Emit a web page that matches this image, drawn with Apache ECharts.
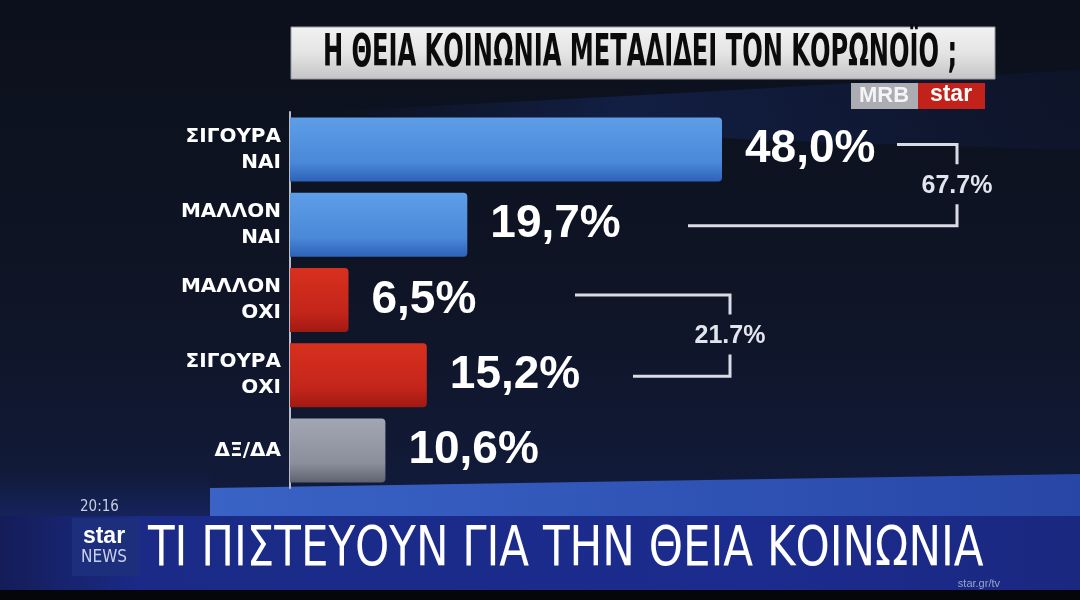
<!DOCTYPE html>
<html>
<head>
<meta charset="utf-8">
<script src="https://cdn.jsdelivr.net/npm/echarts@6/dist/echarts.min.js"></script>
<style>
html,body{margin:0;padding:0;background:#0e1322;}
#c{width:1080px;height:600px;}
</style>
</head>
<body>
<div id="c"></div>
<script>
// ---- data ----
const titleText = 'Η ΘΕΙΑ ΚΟΙΝΩΝΙΑ ΜΕΤΑΔΙΔΕΙ ΤΟΝ ΚΟΡΩΝΟΪΟ ;';
const subtitleText = 'ΤΙ ΠΙΣΤΕΥΟΥΝ ΓΙΑ ΤΗΝ ΘΕΙΑ ΚΟΙΝΩΝΙΑ';
const categories = ['ΣΙΓΟΥΡΑ\nΝΑΙ', 'ΜΑΛΛΟΝ\nΝΑΙ', 'ΜΑΛΛΟΝ\nΟΧΙ', 'ΣΙΓΟΥΡΑ\nΟΧΙ', 'ΔΞ/ΔΑ'];
const values = [48.0, 19.7, 6.5, 15.2, 10.6];
const barKinds = ['yes', 'yes', 'no', 'no', 'dk'];
const groupRows = [[0, 1], [2, 3]];
const groupTotals = [67.7, 21.7];

// ---- styles ----
const grads = {
  yes: ['#5e9ee8', '#4a88d8', '#2d62b8'],
  no: ['#d8301f', '#c4251a', '#a01a12'],
  dk: ['#a3a7b3', '#8b8f9c', '#5f6370']
};
function grad(k) {
  const g = grads[k];
  return new echarts.graphic.LinearGradient(0, 0, 0, 1, [
    {offset: 0, color: g[0]}, {offset: 0.7, color: g[1]}, {offset: 1, color: g[2]}
  ]);
}
const narrow = "'DejaVu Sans Condensed','DejaVu Sans',sans-serif";
const sans = "'Liberation Sans','DejaVu Sans',sans-serif";
const wide = "'DejaVu Sans',sans-serif";

const chart = echarts.init(document.getElementById('c'), null, {renderer: 'canvas'});

const bgGraphics = [
  {type: 'rect', z: -10, silent: true, shape: {x: 0, y: 0, width: 1080, height: 600},
   style: {fill: new echarts.graphic.LinearGradient(0, 0, 0, 1, [
     {offset: 0, color: '#0c101c'}, {offset: 0.5, color: '#0f1526'}, {offset: 0.8, color: '#111a38'}, {offset: 1, color: '#0f1840'}])}},
  // top blue swoosh
  {type: 'polygon', z: -9, silent: true, shape: {points: [[320, 112], [700, 92], [1080, 70], [1080, 150], [760, 140], [500, 125]]},
   style: {fill: new echarts.graphic.LinearGradient(0, 0, 1, 0, [
     {offset: 0, color: 'rgba(30,60,140,0)'}, {offset: 0.4, color: 'rgba(30,60,150,0.3)'}, {offset: 1, color: 'rgba(20,40,110,0.12)'}])}},
  // bottom light stripe
  {type: 'polygon', z: -8, silent: true, shape: {points: [[210, 488], [1080, 474], [1080, 520], [210, 520]]},
   style: {fill: new echarts.graphic.LinearGradient(0, 0, 1, 0, [
     {offset: 0, color: '#3a63c6'}, {offset: 0.6, color: '#2e52b4'}, {offset: 1, color: '#2846a6'}])}},
  // left-bottom glow area
  {type: 'rect', z: -8, silent: true, shape: {x: 0, y: 470, width: 210, height: 50},
   style: {fill: new echarts.graphic.LinearGradient(0, 0, 0, 1, [
     {offset: 0, color: 'rgba(20,35,90,0)'}, {offset: 1, color: '#16245e'}])}},
  // main banner
  {type: 'rect', z: -7, silent: true, shape: {x: 0, y: 516, width: 1080, height: 74},
   style: {fill: new echarts.graphic.LinearGradient(0, 0, 1, 0, [
     {offset: 0, color: '#141d58'}, {offset: 0.13, color: '#1a2a86'}, {offset: 0.7, color: '#1c2c8e'}, {offset: 1, color: '#1a2880'}])}},
  {type: 'rect', z: -6, silent: true, shape: {x: 72, y: 518, width: 68, height: 58},
   style: {fill: '#1d2f7c'}},
  {type: 'rect', z: -6, silent: true, shape: {x: 0, y: 590, width: 1080, height: 10}, style: {fill: '#05060a'}},
  // title banner
  {type: 'rect', z: 1, silent: true, shape: {x: 291, y: 27, width: 704, height: 52},
   style: {fill: new echarts.graphic.LinearGradient(0, 0, 0, 1, [
     {offset: 0, color: '#f2f2f2'}, {offset: 0.5, color: '#e4e4e4'}, {offset: 1, color: '#c4c4c6'}]), stroke: '#9a9a9e', lineWidth: 1}},
  {type: 'text', z: 2, silent: true, x: 640, y: 55, scaleX: 0.61,
   style: {text: titleText, x: 0, y: 0, align: 'center', verticalAlign: 'middle',
   font: 'bold 44px ' + narrow, fill: '#0b0b0b'}},
  // MRB star logo
  {type: 'rect', z: 2, silent: true, shape: {x: 851, y: 83, width: 67, height: 26}, style: {fill: '#acadb2'}},
  {type: 'rect', z: 2, silent: true, shape: {x: 918, y: 83, width: 67, height: 26}, style: {fill: '#c22219'}},
  {type: 'text', z: 3, silent: true, style: {text: 'MRB', x: 884, y: 96, align: 'center', verticalAlign: 'middle',
   font: 'bold 22px ' + sans, fill: '#f4f4f6'}},
  {type: 'text', z: 3, silent: true, style: {text: 'star', x: 951, y: 95, align: 'center', verticalAlign: 'middle',
   font: 'bold 23px ' + sans, fill: '#ffffff'}},
  // bottom texts
  {type: 'text', z: 3, silent: true, style: {text: '20:16', x: 80, y: 507, align: 'left', verticalAlign: 'middle',
   font: '15px ' + narrow, fill: '#c8cde0'}},
  {type: 'text', z: 3, silent: true, style: {text: 'star', x: 104, y: 537, align: 'center', verticalAlign: 'middle',
   font: 'bold 23px ' + sans, fill: '#ffffff'}},
  {type: 'text', z: 3, silent: true, style: {text: 'NEWS', x: 104, y: 558, align: 'center', verticalAlign: 'middle',
   font: '17px ' + narrow, fill: '#c8d0ea'}},
  {type: 'text', z: 3, silent: true, x: 148, y: 551, scaleX: 0.88,
   style: {text: subtitleText, x: 0, y: 0, align: 'left', verticalAlign: 'middle',
   font: '55px ' + narrow, fill: '#ffffff'}},
  {type: 'text', z: 3, silent: true, style: {text: 'star.gr/tv', x: 1000, y: 584, align: 'right', verticalAlign: 'middle',
   font: '11px ' + sans, fill: '#9aa4c8'}}
];

chart.setOption({
  animation: false,
  backgroundColor: 'transparent',
  grid: {left: 290, right: 70, top: 112, bottom: 112},
  xAxis: {type: 'value', min: 0, max: 80, show: false},
  yAxis: {
    type: 'category', data: categories, inverse: true,
    axisLine: {show: true, lineStyle: {color: '#b8bccb', width: 2}},
    axisTick: {show: false},
    axisLabel: {color: '#ffffff', fontFamily: wide, fontWeight: 'bold', fontSize: 20, lineHeight: 26, align: 'right', margin: 9}
  },
  graphic: bgGraphics,
  series: [{
    type: 'bar', barWidth: 64, z: 5,
    data: values.map((v, i) => ({value: v, itemStyle: {color: grad(barKinds[i]), borderRadius: [0, 4, 4, 0]}})),
    label: {show: true, position: 'right', distance: 23, color: '#ffffff', fontFamily: sans, fontWeight: 'bold', fontSize: 46,
      formatter: p => p.value.toFixed(1).replace('.', ',') + '%'}
  }]
});

// brackets tied to category positions
const bracketX = [957, 730];
const topLeft = [897, 575];
const botLeft = [688, 633];
const bracketGraphics = [];
groupRows.forEach((rows, gi) => {
  const yTop = chart.convertToPixel({yAxisIndex: 0}, categories[rows[0]]) - 5;
  const yBot = chart.convertToPixel({yAxisIndex: 0}, categories[rows[1]]) + 1;
  const yMid = (yTop + yBot) / 2;
  const x = bracketX[gi];
  const ls = {stroke: '#d9dce5', lineWidth: 3};
  bracketGraphics.push(
    {type: 'polyline', z: 4, silent: true, shape: {points: [[topLeft[gi], yTop], [x, yTop], [x, yMid - 21]]}, style: Object.assign({fill: null}, ls)},
    {type: 'polyline', z: 4, silent: true, shape: {points: [[botLeft[gi], yBot], [x, yBot], [x, yMid + 19]]}, style: Object.assign({fill: null}, ls)},
    {type: 'text', z: 4, silent: true, style: {text: groupTotals[gi].toFixed(1) + '%', x: x, y: yMid + 1, align: 'center', verticalAlign: 'middle',
      font: 'bold 25px ' + sans, fill: '#e2e5ee'}}
  );
});
chart.setOption({graphic: bgGraphics.concat(bracketGraphics)});
</script>
</body>
</html>
